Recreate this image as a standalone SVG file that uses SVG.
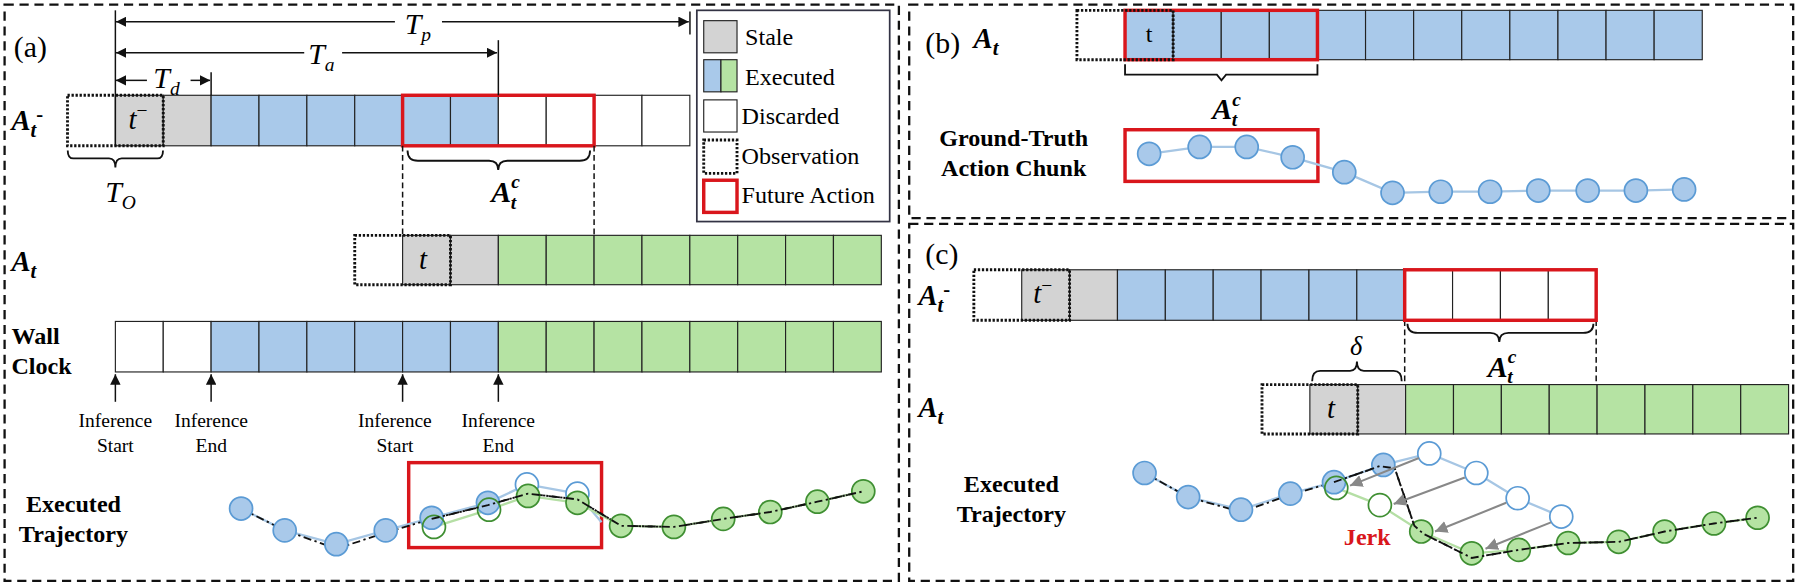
<svg xmlns="http://www.w3.org/2000/svg" width="1800" height="587" viewBox="0 0 1800 587">
<defs>
<style>
text{font-family:'Liberation Serif','Times New Roman',serif;fill:#000}
.b{fill:#a9c9ea;stroke:#222;stroke-width:1}
.g{fill:#b5e3a3;stroke:#222;stroke-width:1}
.s{fill:#d3d3d3;stroke:#222;stroke-width:1}
.w{fill:#fff;stroke:#222;stroke-width:1}
.obs{fill:none;stroke:#111;stroke-width:2.5;stroke-dasharray:2,1.5}
.red{fill:none;stroke:#d9161c;stroke-width:3}
.panel{fill:none;stroke:#111;stroke-width:2;stroke-dasharray:8,5}
.cb{fill:#a9c9ea;stroke:#5b9bd5;stroke-width:1.5}
.hb{fill:#fff;stroke:#5b9bd5;stroke-width:1.5}
.cg{fill:#b5e3a3;stroke:#3f8f32;stroke-width:1.5}
.hg{fill:none;stroke:#3f8f32;stroke-width:1.5}
.lb{fill:none;stroke:#a6c6e4;stroke-width:2}
.lg{fill:none;stroke:#b5dfa5;stroke-width:2}
.dd{fill:none;stroke:#111;stroke-width:1.6;stroke-dasharray:7,3,2,3}
.br{fill:none;stroke:#111;stroke-width:1.6}
.ln{stroke:#111;stroke-width:1.3;fill:none}
.dv{stroke:#111;stroke-width:1.3;stroke-dasharray:5,3;fill:none}
.lab{font-weight:bold;font-size:21px}
.inf{font-size:17px;text-anchor:middle}
.leg{font-size:21px}
.ga{stroke:#888;stroke-width:1.8;fill:none}
</style>
<marker id="ah" viewBox="0 0 10 10" refX="10" refY="5" markerWidth="7" markerHeight="7" orient="auto-start-reverse"><path d="M0,0 L10,5 L0,10 z" fill="#111"/></marker>
<marker id="gh" viewBox="0 0 10 10" refX="10" refY="5" markerWidth="6" markerHeight="6" orient="auto"><path d="M0,0 L10,5 L0,10 z" fill="#888"/></marker>
</defs>
<g transform="scale(1.148)" font-family="Liberation Serif, Times New Roman, serif">
<g id="panels">
<rect class="panel" x="4" y="4" width="779" height="502"/>
<rect class="panel" x="792" y="4" width="770" height="186"/>
<rect class="panel" x="792" y="195" width="770" height="311"/>
</g>
<!-- Panel a -->
<g id="a-title"><text x="12" y="50" font-size="26">(a)</text></g>
<g id="legend">
<rect x="607" y="9" width="168" height="184" fill="#fff" stroke="#334" stroke-width="1.5"/>
<rect class="s" x="613" y="18" width="29" height="28"/><text class="leg" x="649" y="39">Stale</text>
<rect class="b" x="613" y="52" width="15" height="28"/><rect class="g" x="628" y="52" width="14" height="28"/><text class="leg" x="649" y="74">Executed</text>
<rect class="w" x="613" y="87" width="29" height="28"/><text class="leg" x="646" y="108">Discarded</text>
<rect class="obs" x="613" y="122" width="29" height="29"/><text class="leg" x="646" y="143">Observation</text>
<rect class="red" x="613" y="157" width="29" height="28"/><text class="leg" x="646" y="177">Future Action</text>
</g>
<g id="a-row1">
<text x="10" y="113" font-size="25" font-weight="bold" font-style="italic">A<tspan font-size="18" dy="6">t</tspan><tspan font-size="18" dy="-14" font-style="normal">-</tspan></text>
<rect class="s" x="100.5" y="83" width="41.7" height="44"/>
<rect class="s" x="142.2" y="83" width="41.7" height="44"/>
<rect class="b" x="183.9" y="83" width="41.7" height="44"/>
<rect class="b" x="225.6" y="83" width="41.7" height="44"/>
<rect class="b" x="267.3" y="83" width="41.7" height="44"/>
<rect class="b" x="309" y="83" width="41.7" height="44"/>
<rect class="b" x="350.7" y="83" width="41.7" height="44"/>
<rect class="b" x="392.4" y="83" width="41.7" height="44"/>
<rect class="w" x="434.1" y="83" width="41.7" height="44"/>
<rect class="w" x="475.8" y="83" width="41.7" height="44"/>
<rect class="w" x="517.5" y="83" width="41.7" height="44"/>
<rect class="w" x="559.2" y="83" width="41.7" height="44"/>
<rect class="obs" x="58.8" y="83" width="83.4" height="44"/>
<rect class="red" x="350.7" y="83" width="166.8" height="44"/>
<text x="112" y="112" font-size="25" font-style="italic">t<tspan font-size="17" dy="-10" font-style="normal">−</tspan></text>
</g>
<g id="a-row2">
<text x="10" y="236" font-size="25" font-weight="bold" font-style="italic">A<tspan font-size="18" dy="6">t</tspan></text>
<rect class="s" x="350.7" y="205" width="41.7" height="43"/>
<rect class="s" x="392.4" y="205" width="41.7" height="43"/>
<rect class="g" x="434.1" y="205" width="41.7" height="43"/>
<rect class="g" x="475.8" y="205" width="41.7" height="43"/>
<rect class="g" x="517.5" y="205" width="41.7" height="43"/>
<rect class="g" x="559.2" y="205" width="41.7" height="43"/>
<rect class="g" x="600.9" y="205" width="41.7" height="43"/>
<rect class="g" x="642.6" y="205" width="41.7" height="43"/>
<rect class="g" x="684.3" y="205" width="41.7" height="43"/>
<rect class="g" x="726" y="205" width="41.7" height="43"/>
<rect class="obs" x="309" y="205" width="83.4" height="43"/>
<text x="365" y="234" font-size="25" font-style="italic">t</text>
</g>
<g id="a-wall">
<text x="10" y="300" class="lab" font-size="23">Wall</text><text x="10" y="326" class="lab" font-size="23">Clock</text>
<rect class="w" x="100.5" y="280" width="41.7" height="44"/>
<rect class="w" x="142.2" y="280" width="41.7" height="44"/>
<rect class="b" x="183.9" y="280" width="41.7" height="44"/>
<rect class="b" x="225.6" y="280" width="41.7" height="44"/>
<rect class="b" x="267.3" y="280" width="41.7" height="44"/>
<rect class="b" x="309" y="280" width="41.7" height="44"/>
<rect class="b" x="350.7" y="280" width="41.7" height="44"/>
<rect class="b" x="392.4" y="280" width="41.7" height="44"/>
<rect class="g" x="434.1" y="280" width="41.7" height="44"/>
<rect class="g" x="475.8" y="280" width="41.7" height="44"/>
<rect class="g" x="517.5" y="280" width="41.7" height="44"/>
<rect class="g" x="559.2" y="280" width="41.7" height="44"/>
<rect class="g" x="600.9" y="280" width="41.7" height="44"/>
<rect class="g" x="642.6" y="280" width="41.7" height="44"/>
<rect class="g" x="684.3" y="280" width="41.7" height="44"/>
<rect class="g" x="726" y="280" width="41.7" height="44"/>
</g>
<g id="a-inference">
<text class="inf" x="100.5" y="372">Inference</text><text class="inf" x="100.5" y="394">Start</text>
<text class="inf" x="184" y="372">Inference</text><text class="inf" x="184" y="394">End</text>
<text class="inf" x="344" y="372">Inference</text><text class="inf" x="344" y="394">Start</text>
<text class="inf" x="434" y="372">Inference</text><text class="inf" x="434" y="394">End</text>
</g>
<g id="a-labels">
<text x="364" y="30" font-size="26" font-style="italic" text-anchor="middle">T<tspan font-size="17" dy="6">p</tspan></text>
<text x="280" y="56" font-size="26" font-style="italic" text-anchor="middle">T<tspan font-size="17" dy="6">a</tspan></text>
<text x="145" y="77" font-size="26" font-style="italic" text-anchor="middle">T<tspan font-size="17" dy="6">d</tspan></text>
<text x="105" y="176" font-size="26" font-style="italic" text-anchor="middle">T<tspan font-size="17" dy="6">O</tspan></text>
<text x="428" y="176" font-size="26" font-weight="bold" font-style="italic">A<tspan font-size="17" dy="-12">c</tspan><tspan font-size="17" dx="-8" dy="18">t</tspan></text>
<text x="64" y="446" class="lab" text-anchor="middle">Executed</text>
<text x="64" y="472" class="lab" text-anchor="middle">Trajectory</text>
</g>
<g id="connectors">
<line class="ln" x1="100.5" y1="9" x2="100.5" y2="127"/>
<line class="ln" x1="601" y1="10" x2="601" y2="30"/>
<line class="ln" x1="434.1" y1="35" x2="434.1" y2="83"/>
<line class="ln" x1="183.9" y1="63" x2="183.9" y2="83" stroke="#4a7"/>
<line class="ln" x1="101" y1="19" x2="344" y2="19" marker-start="url(#ah)"/>
<line class="ln" x1="385" y1="19" x2="600" y2="19" marker-end="url(#ah)"/>
<line class="ln" x1="101" y1="46" x2="265" y2="46" marker-start="url(#ah)"/>
<line class="ln" x1="298" y1="46" x2="433" y2="46" marker-end="url(#ah)"/>
<line class="ln" x1="101" y1="70" x2="128" y2="70" marker-start="url(#ah)"/>
<line class="ln" x1="166" y1="70" x2="183" y2="70" marker-end="url(#ah)"/>
<path class="br" d="M59,131 Q59,138 64,138 L95,138 Q100.5,138 100.5,146 Q100.5,138 106,138 L137,138 Q142,138 142,131"/>
<path class="br" d="M355,131 Q355,140 364,140 L426,140 Q434,140 434,148 Q434,140 442,140 L505,140 Q514,140 514,131"/>
<line class="dv" x1="350.7" y1="127" x2="350.7" y2="205"/>
<line class="dv" x1="517.5" y1="127" x2="517.5" y2="205"/>
<line class="ln" x1="100.5" y1="350" x2="100.5" y2="326" marker-end="url(#ah)"/>
<line class="ln" x1="183.9" y1="350" x2="183.9" y2="326" marker-end="url(#ah)"/>
<line class="ln" x1="350.7" y1="350" x2="350.7" y2="326" marker-end="url(#ah)"/>
<line class="ln" x1="434.1" y1="350" x2="434.1" y2="326" marker-end="url(#ah)"/>
<path class="br" d="M980,56 L980,65 L1060,65 L1064,70 L1068,65 L1147.6,65 L1147.6,56"/>
<path class="br" d="M1226,282 Q1226,290 1235,290 L1298,290 Q1306,290 1306,298 Q1306,290 1314,290 L1379,290 Q1388,290 1388,282"/>
<path class="br" d="M1143,332 Q1143,323 1150,323 L1176,323 Q1182,323 1182,315 Q1182,323 1188,323 L1214,323 Q1221,323 1221,332"/>
<line class="dv" x1="1223.6" y1="279" x2="1223.6" y2="335"/>
<line class="dv" x1="1390.4" y1="279" x2="1390.4" y2="335"/>
</g>
<g id="a-trajectory">
<rect class="red" x="356" y="403" width="168" height="74"/>
<polyline class="lb" points="210,443 248,462 293,474 336,462 376,451 425,438 459,422 503,430 524,455"/>
<polyline class="lg" points="378,459 426,444 460,432 503,438 541,458 587,459 630,452 671,446 712,437 752,428"/>
<polyline class="dd" points="210,443 248,462 293,478 336,464 376,452 425,440 460,430 503,435 541,458 587,459 630,452 671,446 712,437 752,428"/>
<circle class="cb" cx="210" cy="443" r="10"/>
<circle class="cb" cx="248" cy="462" r="10"/>
<circle class="cb" cx="293" cy="474" r="10"/>
<circle class="cb" cx="336" cy="462" r="10"/>
<circle class="cb" cx="376" cy="451" r="10"/>
<circle class="cb" cx="425" cy="438" r="10"/>
<circle class="hb" cx="459" cy="422" r="10"/>
<circle class="hb" cx="503" cy="430" r="10"/>
<circle class="hg" cx="378" cy="459" r="10"/>
<circle class="hg" cx="426" cy="444" r="10"/>
<circle class="cg" cx="460" cy="432" r="10"/>
<circle class="cg" cx="503" cy="438" r="10"/>
<circle class="cg" cx="541" cy="458" r="10"/>
<circle class="cg" cx="587" cy="459" r="10"/>
<circle class="cg" cx="630" cy="452" r="10"/>
<circle class="cg" cx="671" cy="446" r="10"/>
<circle class="cg" cx="712" cy="437" r="10"/>
<circle class="cg" cx="752" cy="428" r="10"/>
<polyline class="dd" points="376,452 425,440 460,430 503,435 541,458 587,459 630,452 671,446 712,437 752,428"/>
</g>
<!-- Panel b -->
<g id="b-row">
<text x="806" y="46" font-size="26">(b)</text>
<text x="848" y="42" font-size="25" font-weight="bold" font-style="italic">A<tspan font-size="18" dy="6">t</tspan></text>
<rect class="b" x="980" y="9" width="41.9" height="43"/>
<rect class="b" x="1021.9" y="9" width="41.9" height="43"/>
<rect class="b" x="1063.8" y="9" width="41.9" height="43"/>
<rect class="b" x="1105.7" y="9" width="41.9" height="43"/>
<rect class="b" x="1147.6" y="9" width="41.9" height="43"/>
<rect class="b" x="1189.5" y="9" width="41.9" height="43"/>
<rect class="b" x="1231.4" y="9" width="41.9" height="43"/>
<rect class="b" x="1273.3" y="9" width="41.9" height="43"/>
<rect class="b" x="1315.2" y="9" width="41.9" height="43"/>
<rect class="b" x="1357.1" y="9" width="41.9" height="43"/>
<rect class="b" x="1399" y="9" width="41.9" height="43"/>
<rect class="b" x="1440.9" y="9" width="41.9" height="43"/>
<rect class="red" x="980" y="9" width="167.6" height="43"/>
<rect class="obs" x="938.1" y="9" width="83.8" height="43"/>
<text x="1001" y="37" font-size="21" text-anchor="middle">t</text>
<text x="1056" y="104" font-size="26" font-weight="bold" font-style="italic">A<tspan font-size="17" dy="-12">c</tspan><tspan font-size="17" dx="-8" dy="18">t</tspan></text>
<text x="883" y="127" class="lab" text-anchor="middle">Ground-Truth</text>
<text x="883" y="153" class="lab" text-anchor="middle">Action Chunk</text>
</g>
<g id="b-trajectory">
<rect class="red" x="980" y="113" width="168" height="45"/>
<polyline class="lb" points="1001,134 1045,128 1086,128 1126,137 1171,150 1213,168 1255,167 1298,167 1340,166 1383,166 1425,166 1467,165"/>
<circle class="cb" cx="1001" cy="134" r="10"/>
<circle class="cb" cx="1045" cy="128" r="10"/>
<circle class="cb" cx="1086" cy="128" r="10"/>
<circle class="cb" cx="1126" cy="137" r="10"/>
<circle class="cb" cx="1171" cy="150" r="10"/>
<circle class="cb" cx="1213" cy="168" r="10"/>
<circle class="cb" cx="1255" cy="167" r="10"/>
<circle class="cb" cx="1298" cy="167" r="10"/>
<circle class="cb" cx="1340" cy="166" r="10"/>
<circle class="cb" cx="1383" cy="166" r="10"/>
<circle class="cb" cx="1425" cy="166" r="10"/>
<circle class="cb" cx="1467" cy="165" r="10"/>
</g>
<!-- Panel c -->
<g id="c-row1">
<text x="806" y="230" font-size="26">(c)</text>
<text x="800" y="266" font-size="25" font-weight="bold" font-style="italic">A<tspan font-size="18" dy="6">t</tspan><tspan font-size="18" dy="-14" font-style="normal">-</tspan></text>
<rect class="s" x="890" y="235" width="41.7" height="44"/>
<rect class="s" x="931.7" y="235" width="41.7" height="44"/>
<rect class="b" x="973.4" y="235" width="41.7" height="44"/>
<rect class="b" x="1015.1" y="235" width="41.7" height="44"/>
<rect class="b" x="1056.8" y="235" width="41.7" height="44"/>
<rect class="b" x="1098.5" y="235" width="41.7" height="44"/>
<rect class="b" x="1140.2" y="235" width="41.7" height="44"/>
<rect class="b" x="1181.9" y="235" width="41.7" height="44"/>
<rect class="w" x="1223.6" y="235" width="41.7" height="44"/>
<rect class="w" x="1265.3" y="235" width="41.7" height="44"/>
<rect class="w" x="1307" y="235" width="41.7" height="44"/>
<rect class="w" x="1348.7" y="235" width="41.7" height="44"/>
<rect class="red" x="1223.6" y="235" width="166.8" height="44"/>
<rect class="obs" x="848.3" y="235" width="83.4" height="44"/>
<text x="900" y="264" font-size="25" font-style="italic">t<tspan font-size="17" dy="-10" font-style="normal">−</tspan></text>
<text x="1176" y="309" font-size="23" font-style="italic">δ</text>
<text x="1296" y="328" font-size="26" font-weight="bold" font-style="italic">A<tspan font-size="17" dy="-12">c</tspan><tspan font-size="17" dx="-8" dy="18">t</tspan></text>
</g>
<g id="c-row2">
<text x="800" y="363" font-size="25" font-weight="bold" font-style="italic">A<tspan font-size="18" dy="6">t</tspan></text>
<rect class="s" x="1141" y="335" width="41.7" height="43"/>
<rect class="s" x="1182.7" y="335" width="41.7" height="43"/>
<rect class="g" x="1224.4" y="335" width="41.7" height="43"/>
<rect class="g" x="1266.1" y="335" width="41.7" height="43"/>
<rect class="g" x="1307.8" y="335" width="41.7" height="43"/>
<rect class="g" x="1349.5" y="335" width="41.7" height="43"/>
<rect class="g" x="1391.2" y="335" width="41.7" height="43"/>
<rect class="g" x="1432.9" y="335" width="41.7" height="43"/>
<rect class="g" x="1474.6" y="335" width="41.7" height="43"/>
<rect class="g" x="1516.3" y="335" width="41.7" height="43"/>
<rect class="obs" x="1099.3" y="335" width="83.4" height="43"/>
<text x="1156" y="364" font-size="25" font-style="italic">t</text>
</g>
<g id="c-trajectory">
<text x="881" y="429" class="lab" text-anchor="middle">Executed</text>
<text x="881" y="455" class="lab" text-anchor="middle">Trajectory</text>
<text x="1191" y="475" class="lab" style="fill:#d9161c" text-anchor="middle">Jerk</text>
<polyline class="lb" points="997,412 1035,433 1081,444 1124,430 1162,420 1205,405 1245,395 1286,412 1322,434 1360,450"/>
<polyline class="lg" points="1164,425 1202,440 1238,463 1282,482 1323,479 1366,473 1410,472 1450,463 1493,456 1531,451"/>
<polyline class="dd" points="997,412 1035,433 1081,446 1124,431 1162,420 1202,406 1215,408 1232,458 1240,465 1282,486 1323,479 1366,473 1410,472 1450,463 1493,456 1531,451"/>
<circle class="cb" cx="997" cy="412" r="10"/>
<circle class="cb" cx="1035" cy="433" r="10"/>
<circle class="cb" cx="1081" cy="444" r="10"/>
<circle class="cb" cx="1124" cy="430" r="10"/>
<circle class="cb" cx="1162" cy="420" r="10"/>
<circle class="cb" cx="1205" cy="405" r="10"/>
<circle class="hb" cx="1245" cy="395" r="10"/>
<circle class="hb" cx="1286" cy="412" r="10"/>
<circle class="hb" cx="1322" cy="434" r="10"/>
<circle class="hb" cx="1360" cy="450" r="10"/>
<circle class="hg" cx="1164" cy="425" r="10"/>
<circle class="hg" cx="1202" cy="440" r="10" style="fill:#fff"/>
<circle class="cg" cx="1238" cy="463" r="10"/>
<circle class="cg" cx="1282" cy="482" r="10"/>
<circle class="cg" cx="1323" cy="479" r="10"/>
<circle class="cg" cx="1366" cy="473" r="10"/>
<circle class="cg" cx="1410" cy="472" r="10"/>
<circle class="cg" cx="1450" cy="463" r="10"/>
<circle class="cg" cx="1493" cy="456" r="10"/>
<circle class="cg" cx="1531" cy="451" r="10"/>
<polyline class="dd" points="1162,420 1202,406 1215,408 1232,458 1240,465 1282,486 1323,479 1366,473 1410,472 1450,463 1493,456 1531,451"/>
<line class="ga" x1="1236" y1="399" x2="1176" y2="423" marker-end="url(#gh)"/>
<line class="ga" x1="1276" y1="416" x2="1214" y2="439" marker-end="url(#gh)"/>
<line class="ga" x1="1312" y1="438" x2="1250" y2="463" marker-end="url(#gh)"/>
<line class="ga" x1="1351" y1="455" x2="1294" y2="478" marker-end="url(#gh)"/>
</g>
</g>
</svg>
